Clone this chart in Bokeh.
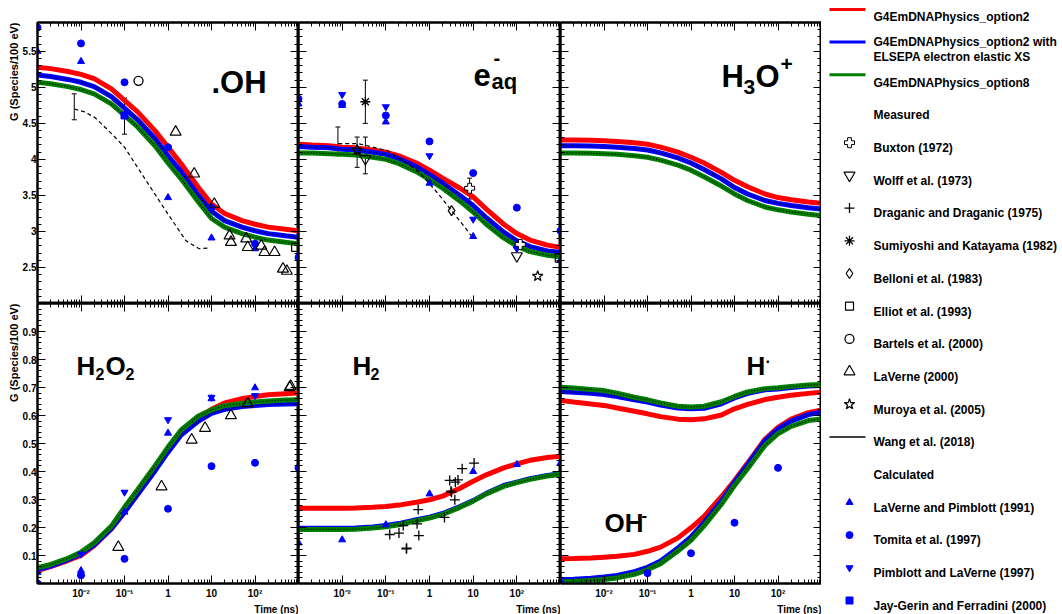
from bokeh.plotting import figure
from bokeh.layouts import row, column
from bokeh.models import (Range1d, LogAxis, LinearAxis, FixedTicker, CustomJSTickFormatter,
                          Title, Label, Whisker, TeeHead, ColumnDataSource, Grid)
from bokeh.core.properties import value
from bokeh.embed import file_html
from bokeh.resources import INLINE

FONT = "Liberation Sans"

# ------------------------------------------------------------------ data
T = [1e-3, 2e-3, 5e-3, 1e-2, 2e-2, 5e-2, 0.1, 0.2, 0.5, 1, 2, 5, 10, 20, 50, 100, 200, 500, 1000]

OH_opt2 = [5.28, 5.26, 5.22, 5.18, 5.12, 4.98, 4.82, 4.66, 4.40, 4.17, 3.94, 3.61, 3.38, 3.25, 3.15, 3.10, 3.06, 3.03, 3.01]
OH_elsepa = [5.17, 5.15, 5.11, 5.07, 5.01, 4.87, 4.71, 4.55, 4.29, 4.05, 3.83, 3.50, 3.28, 3.15, 3.06, 3.01, 2.97, 2.94, 2.92]
OH_opt8 = [5.07, 5.05, 5.01, 4.97, 4.91, 4.77, 4.61, 4.45, 4.19, 3.95, 3.73, 3.41, 3.18, 3.06, 2.97, 2.92, 2.88, 2.85, 2.83]

EAQ_opt2 = [4.21, 4.20, 4.19, 4.17, 4.16, 4.13, 4.10, 4.05, 3.95, 3.85, 3.74, 3.60, 3.48, 3.31, 3.10, 2.97, 2.88, 2.81, 2.78]
EAQ_elsepa = [4.18, 4.17, 4.16, 4.14, 4.13, 4.10, 4.07, 4.01, 3.90, 3.79, 3.67, 3.50, 3.36, 3.19, 2.99, 2.87, 2.79, 2.73, 2.71]
EAQ_opt8 = [4.09, 4.09, 4.08, 4.07, 4.06, 4.03, 4.00, 3.94, 3.83, 3.72, 3.60, 3.42, 3.27, 3.10, 2.91, 2.80, 2.72, 2.67, 2.65]

H3O_opt2 = [4.27, 4.27, 4.265, 4.26, 4.25, 4.23, 4.21, 4.17, 4.10, 4.03, 3.95, 3.82, 3.71, 3.62, 3.52, 3.47, 3.44, 3.41, 3.39]
H3O_elsepa = [4.19, 4.19, 4.185, 4.18, 4.17, 4.15, 4.13, 4.09, 4.02, 3.95, 3.86, 3.73, 3.61, 3.52, 3.43, 3.39, 3.36, 3.33, 3.31]
H3O_opt8 = [4.09, 4.09, 4.085, 4.08, 4.07, 4.05, 4.03, 3.99, 3.92, 3.85, 3.76, 3.63, 3.52, 3.43, 3.34, 3.30, 3.27, 3.24, 3.22]

H2O2_opt2 = [0.046, 0.06, 0.082, 0.10, 0.135, 0.195, 0.255, 0.32, 0.405, 0.475, 0.54, 0.595, 0.622, 0.645, 0.66, 0.668, 0.674, 0.678, 0.68]
H2O2_elsepa = [0.05, 0.062, 0.085, 0.106, 0.138, 0.197, 0.255, 0.318, 0.402, 0.469, 0.53, 0.58, 0.608, 0.622, 0.632, 0.636, 0.639, 0.641, 0.642]
H2O2_opt8 = [0.056, 0.068, 0.09, 0.112, 0.145, 0.205, 0.272, 0.335, 0.42, 0.487, 0.548, 0.598, 0.62, 0.635, 0.644, 0.648, 0.652, 0.655, 0.656]

H2_opt2 = [0.269, 0.269, 0.269, 0.269, 0.27, 0.272, 0.275, 0.28, 0.29, 0.299, 0.312, 0.34, 0.365, 0.388, 0.413, 0.427, 0.44, 0.45, 0.455]
H2_elsepa = [0.197, 0.197, 0.197, 0.197, 0.198, 0.202, 0.207, 0.214, 0.228, 0.237, 0.25, 0.275, 0.296, 0.322, 0.35, 0.362, 0.374, 0.386, 0.392]
H2_opt8 = [0.193, 0.193, 0.193, 0.193, 0.194, 0.198, 0.203, 0.21, 0.224, 0.234, 0.247, 0.272, 0.294, 0.32, 0.347, 0.36, 0.372, 0.384, 0.39]

H_opt2 = [0.654, 0.648, 0.641, 0.636, 0.627, 0.615, 0.606, 0.596, 0.587, 0.585, 0.588, 0.602, 0.624, 0.64, 0.657, 0.665, 0.672, 0.679, 0.683]
H_elsepa = [0.686, 0.683, 0.679, 0.675, 0.668, 0.656, 0.648, 0.637, 0.627, 0.624, 0.626, 0.642, 0.663, 0.679, 0.692, 0.695, 0.70, 0.705, 0.707]
H_opt8 = [0.701, 0.698, 0.693, 0.689, 0.68, 0.665, 0.656, 0.645, 0.633, 0.63, 0.633, 0.649, 0.668, 0.684, 0.696, 0.699, 0.704, 0.709, 0.711]

OHm_opt2 = [0.088, 0.089, 0.091, 0.094, 0.097, 0.104, 0.115, 0.13, 0.163, 0.199, 0.24, 0.31, 0.368, 0.43, 0.515, 0.558, 0.587, 0.61, 0.62]
OHm_elsepa = [0.013, 0.015, 0.019, 0.023, 0.029, 0.042, 0.058, 0.08, 0.127, 0.166, 0.218, 0.295, 0.362, 0.425, 0.51, 0.552, 0.58, 0.603, 0.612]
OHm_opt8 = [0.005, 0.007, 0.011, 0.014, 0.02, 0.033, 0.049, 0.071, 0.116, 0.154, 0.206, 0.283, 0.35, 0.41, 0.493, 0.535, 0.561, 0.582, 0.588]

# Wang et al. (2018) curves (dashed)
WANG_OH_t = [7e-3, 0.012, 0.021, 0.052, 0.1, 0.31, 1, 2.6, 5.2, 8.1]
WANG_OH_v = [4.70, 4.66, 4.58, 4.35, 4.17, 3.71, 3.24, 2.87, 2.76, 2.77]
WANG_EAQ_t = [8.1e-3, 0.023, 0.11, 0.55, 1.6, 3.2, 6.4, 9.1]
WANG_EAQ_v = [4.22, 4.22, 4.12, 3.84, 3.52, 3.29, 3.06, 2.94]

# .OH points
OH_tomita_t = [1e-3, 1e-2, 0.1, 1, 10, 100, 1000]
OH_tomita_v = [5.83, 5.61, 5.07, 4.17, 3.33, 2.83, 2.64]
OH_lp91_t = [1e-3, 1e-2, 1, 10, 100]
OH_lp91_v = [5.50, 5.36, 3.47, 2.91, 2.76]
OH_jg_t = [0.1]
OH_jg_v = [4.61]
OH_bartels_t = [0.21]
OH_bartels_v = [5.09]
OH_laverne_t = [1.5, 4.0, 11.6, 26, 28, 63, 68, 139, 165, 282, 440, 540]
OH_laverne_v = [4.38, 3.80, 3.38, 2.94, 2.85, 2.90, 2.78, 2.80, 2.71, 2.71, 2.48, 2.45]
OH_elliot_t = [860]
OH_elliot_v = [2.78]
OH_err_t = [7e-3, 0.1]
OH_err_lo = [4.55, 4.35]
OH_err_hi = [4.91, 4.85]

# e-aq points
EAQ_tomita_t = [1e-3, 1e-2, 0.1, 1, 10, 100, 1000]
EAQ_tomita_v = [4.84, 4.77, 4.61, 4.25, 3.81, 3.33, 3.01]
EAQ_pl97_t = [1e-2, 0.1, 1, 10, 100]
EAQ_pl97_v = [4.90, 4.73, 4.05, 3.17, 2.76]
EAQ_lp91_t = [1e-3, 1e-2, 0.1, 1, 10, 100, 1000]
EAQ_lp91_v = [4.77, 4.75, 4.52, 3.67, 2.93, 2.80, 2.60]
EAQ_sumi_t = [0.034]
EAQ_sumi_v = [4.80]
EAQ_wolff_t = [0.034, 100]
EAQ_wolff_v = [4.01, 2.66]
EAQ_buxton_t = [8.3, 120]
EAQ_buxton_v = [3.60, 2.82]
EAQ_belloni_t = [0.022, 3.2]
EAQ_belloni_v = [4.13, 3.29]
EAQ_muroya_t = [0.022, 300]
EAQ_muroya_v = [4.13, 2.38]
EAQ_elliot_t = [940]
EAQ_elliot_v = [2.63]
EAQ_err_t = [8e-3, 0.022, 0.034, 0.034, 8.3]
EAQ_err_lo = [4.05, 3.89, 4.50, 3.80, 3.45]
EAQ_err_hi = [4.45, 4.31, 5.10, 4.31, 3.74]

# H2O2 points
H2O2_tomita_t = [1e-3, 1e-2, 0.1, 1, 10, 100, 1000]
H2O2_tomita_v = [0.0, 0.029, 0.088, 0.267, 0.419, 0.431, 0.413]
H2O2_lp91_t = [1e-3, 1e-2, 1e-2, 0.1, 1, 10, 100]
H2O2_lp91_v = [0.04, 0.046, 0.036, 0.255, 0.537, 0.66, 0.699]
H2O2_pl97_t = [1e-2, 0.1, 1, 10, 100]
H2O2_pl97_v = [0.105, 0.326, 0.585, 0.665, 0.671]
H2O2_laverne_t = [0.072, 0.71, 3.5, 7.1, 28, 68, 626, 660]
H2O2_laverne_v = [0.13, 0.346, 0.513, 0.555, 0.60, 0.642, 0.70, 0.705]

# H2 points
H2_lp91_t = [1e-3, 1e-2, 0.1, 1, 10, 100, 1000]
H2_lp91_v = [0.145, 0.156, 0.21, 0.32, 0.40, 0.425, 0.43]
H2_drag_t = [0.123, 0.2, 0.25, 0.295, 0.30, 0.52, 0.55, 0.57, 2.2, 2.9, 3.1, 3.2, 3.8, 3.9, 4.5, 5.6, 10.5]
H2_drag_v = [0.175, 0.18, 0.207, 0.124, 0.126, 0.213, 0.264, 0.171, 0.236, 0.368, 0.33, 0.326,
             0.299, 0.362, 0.37, 0.41, 0.43]

# OH- points
OHm_tomita_t = [1e-3, 0.1, 1, 10, 100]
OHm_tomita_v = [0.0, 0.037, 0.108, 0.217, 0.413]

LEGEND_LABELS = ["G4EmDNAPhysics_option2",
                 "G4EmDNAPhysics_option2 with|ELSEPA electron elastic XS",
                 "G4EmDNAPhysics_option8", "Measured", "Buxton (1972)", "Wolff et al. (1973)",
                 "Draganic and Draganic (1975)", "Sumiyoshi and Katayama (1982)",
                 "Belloni et al. (1983)", "Elliot et al. (1993)", "Bartels et al. (2000)",
                 "LaVerne (2000)", "Muroya et al. (2005)", "Wang et al. (2018)", "Calculated",
                 "LaVerne and Pimblott (1991)", "Tomita et al. (1997)",
                 "Pimblott and LaVerne (1997)", "Jay-Gerin and Ferradini (2000)"]

# ------------------------------------------------------------------ styles
CURVE_COLORS = ["red", "blue", "green"]
STY = {
    "Buxton (1972)": dict(marker="plus", size=10, fill_color="white", line_color="black", line_width=1),
    "Wolff et al. (1973)": dict(marker="inverted_triangle", size=11, fill_color=None, line_color="black", line_width=1.2),
    "Draganic and Draganic (1975)": dict(marker="cross", size=10, line_color="black", line_width=1.3),
    "Sumiyoshi and Katayama (1982)": dict(marker="asterisk", size=10, line_color="black", line_width=1.3),
    "Belloni et al. (1983)": dict(marker="diamond", size=10, fill_color=None, line_color="black", line_width=1.2),
    "Elliot et al. (1993)": dict(marker="square", size=8, fill_color=None, line_color="black", line_width=1.2),
    "Bartels et al. (2000)": dict(marker="circle", size=9, fill_color=None, line_color="black", line_width=1.3),
    "LaVerne (2000)": dict(marker="triangle", size=11, fill_color=None, line_color="black", line_width=1.2),
    "Muroya et al. (2005)": dict(marker="star", size=11, fill_color=None, line_color="black", line_width=1.2),
    "LaVerne and Pimblott (1991)": dict(marker="triangle", size=7, fill_color="blue", line_color="blue", line_width=1),
    "Tomita et al. (1997)": dict(marker="circle", size=7, fill_color="blue", line_color="blue", line_width=1),
    "Pimblott and LaVerne (1997)": dict(marker="inverted_triangle", size=7, fill_color="blue", line_color="blue", line_width=1),
    "Jay-Gerin and Ferradini (2000)": dict(marker="square", size=7, fill_color="blue", line_color="blue", line_width=1),
}

# ------------------------------------------------------------------ layout geometry (page px)
COL_LEFT = [37, 298, 560]
FW = [261, 262, 261]
ROW_TOP = [22, 303]
FH = [281, 280]
YR = [(2.0, 5.9), (0.0, 1.0)]

XFMT = """
const e = Math.round(Math.log10(tick));
const lab = {"-2": "10⁻²", "-1": "10⁻¹", "0": "1", "1": "10", "2": "10²"};
const k = String(e);
return (k in lab) ? lab[k] : "";
"""
YFMT = "return Number(tick.toFixed(2)).toString();"
BLANK = 'return "";'

XT = [10.0 ** k for k in range(-3, 4)]
XM = [m * 10.0 ** k for k in range(-3, 3) for m in range(2, 10)]
YT = [[2.5, 3.0, 3.5, 4.0, 4.5, 5.0, 5.5], [0.1, 0.2, 0.3, 0.4, 0.5, 0.6, 0.7, 0.8, 0.9]]
YM = [[round(2.0 + 0.1 * i, 2) for i in range(40)], [round(0.02 * i, 2) for i in range(51)]]


def make_axis(kind, ticks, minor, code, labels, standoff=1):
    cls = LogAxis if kind == "log" else LinearAxis
    return cls(ticker=FixedTicker(ticks=ticks, minor_ticks=minor),
               formatter=CustomJSTickFormatter(code=code if labels else BLANK),
               axis_line_width=2, axis_line_color="black",
               major_tick_in=8, major_tick_out=0, minor_tick_in=4, minor_tick_out=0,
               major_tick_line_width=1, minor_tick_line_width=1,
               major_tick_line_color="black", minor_tick_line_color="black",
               major_label_text_font=FONT, major_label_text_font_style="bold",
               major_label_text_color="black",
               major_label_text_font_size="10px" if labels else "0px",
               major_label_standoff=standoff if labels else 0)


def to_data(c, r, px, py):
    xd = 10 ** (-3 + 6 * (px - COL_LEFT[c]) / FW[c])
    lo, hi = YR[r]
    yd = hi - (py - ROW_TOP[r]) / FH[r] * (hi - lo)
    return xd, yd


def make_panel(c, r):
    p = figure(x_axis_type="log", x_range=Range1d(1e-3, 1e3), y_range=Range1d(*YR[r]),
               frame_width=FW[c], frame_height=FH[r],
               min_border_left=37 if c == 0 else 0, min_border_right=0,
               min_border_top=22 if r == 0 else 0, min_border_bottom=31 if r == 1 else 0,
               x_axis_location=None, y_axis_location=None,
               toolbar_location=None, output_backend="svg",
               background_fill_color="white", border_fill_color="white")
    p.outline_line_color = "black"
    p.outline_line_width = 2
    for rend in list(p.center):
        if isinstance(rend, Grid):
            rend.visible = False
    p.add_layout(make_axis("log", XT, XM, XFMT, r == 1, standoff=4), "below")
    p.add_layout(make_axis("log", XT, XM, XFMT, False), "above")
    p.add_layout(make_axis("lin", YT[r], YM[r], YFMT, c == 0, standoff=1), "left")
    p.add_layout(make_axis("lin", YT[r], YM[r], YFMT, False), "right")
    if c == 0:
        p.add_layout(Title(text="G (Species/100 eV)", align="right", text_font=FONT,
                           text_font_style="bold", text_font_size="11px", standoff=0,
                           offset=0, text_color="black"), "left")
    if r == 1:
        p.add_layout(Title(text="Time (ns)", align="right", text_font=FONT,
                           text_font_style="bold", text_font_size="10px", standoff=0,
                           offset=0, text_color="black"), "below")
    return p


def curves(p, vals):
    for color, v in zip(CURVE_COLORS, vals):
        p.line(T, v, line_color=color, line_width=5)
        if color != "red":
            p.line(T, v, line_color="black", line_width=1.3, line_dash="1 2")


def points(p, name, t, v):
    p.scatter(t, v, **STY[name])


def errors(p, t, lo, hi):
    src = ColumnDataSource(dict(t=t, lo=lo, hi=hi))
    p.add_layout(Whisker(source=src, base="t", lower="lo", upper="hi", dimension="height",
                         line_color="black", line_width=1,
                         upper_head=TeeHead(size=5, line_color="black", line_width=1),
                         lower_head=TeeHead(size=5, line_color="black", line_width=1)))


def label(p, c, r, pieces):
    for px, py, txt, size in pieces:
        x, y = to_data(c, r, px, py)
        p.add_layout(Label(x=x, y=y, text=txt, text_font=FONT, text_font_style="bold",
                           text_font_size=f"{size}px", text_color="black",
                           text_align="left", text_baseline="alphabetic"))


def wang(p, t, v):
    p.line(t, v, line_color="black", line_width=1.2, line_dash="4 3")


# ------------------------------------------------------------------ panels
p_oh = make_panel(0, 0)
curves(p_oh, [OH_opt2, OH_elsepa, OH_opt8])
wang(p_oh, WANG_OH_t, WANG_OH_v)
errors(p_oh, OH_err_t, OH_err_lo, OH_err_hi)
points(p_oh, "Tomita et al. (1997)", OH_tomita_t, OH_tomita_v)
points(p_oh, "LaVerne and Pimblott (1991)", OH_lp91_t, OH_lp91_v)
points(p_oh, "Jay-Gerin and Ferradini (2000)", OH_jg_t, OH_jg_v)
points(p_oh, "Bartels et al. (2000)", OH_bartels_t, OH_bartels_v)
points(p_oh, "LaVerne (2000)", OH_laverne_t, OH_laverne_v)
points(p_oh, "Elliot et al. (1993)", OH_elliot_t, OH_elliot_v)
label(p_oh, 0, 0, [(211, 82, ".OH", 31)])

p_eaq = make_panel(1, 0)
curves(p_eaq, [EAQ_opt2, EAQ_elsepa, EAQ_opt8])
wang(p_eaq, WANG_EAQ_t, WANG_EAQ_v)
errors(p_eaq, EAQ_err_t, EAQ_err_lo, EAQ_err_hi)
points(p_eaq, "Tomita et al. (1997)", EAQ_tomita_t, EAQ_tomita_v)
points(p_eaq, "Pimblott and LaVerne (1997)", EAQ_pl97_t, EAQ_pl97_v)
points(p_eaq, "LaVerne and Pimblott (1991)", EAQ_lp91_t, EAQ_lp91_v)
points(p_eaq, "Sumiyoshi and Katayama (1982)", EAQ_sumi_t, EAQ_sumi_v)
points(p_eaq, "Wolff et al. (1973)", EAQ_wolff_t, EAQ_wolff_v)
points(p_eaq, "Buxton (1972)", EAQ_buxton_t, EAQ_buxton_v)
points(p_eaq, "Belloni et al. (1983)", EAQ_belloni_t, EAQ_belloni_v)
points(p_eaq, "Muroya et al. (2005)", EAQ_muroya_t, EAQ_muroya_v)
points(p_eaq, "Elliot et al. (1993)", EAQ_elliot_t, EAQ_elliot_v)
label(p_eaq, 1, 0, [(473, 74, "e", 31), (493, 57, "-", 20), (491, 81, "aq", 22)])

p_h3o = make_panel(2, 0)
curves(p_h3o, [H3O_opt2, H3O_elsepa, H3O_opt8])
label(p_h3o, 2, 0, [(721, 76, "H", 31), (743, 86, "3", 21), (755, 76, "O", 31),
                    (780, 63, "+", 21)])

p_h2o2 = make_panel(0, 1)
curves(p_h2o2, [H2O2_opt2, H2O2_elsepa, H2O2_opt8])
points(p_h2o2, "Tomita et al. (1997)", H2O2_tomita_t, H2O2_tomita_v)
points(p_h2o2, "LaVerne and Pimblott (1991)", H2O2_lp91_t, H2O2_lp91_v)
points(p_h2o2, "Pimblott and LaVerne (1997)", H2O2_pl97_t, H2O2_pl97_v)
points(p_h2o2, "LaVerne (2000)", H2O2_laverne_t, H2O2_laverne_v)
label(p_h2o2, 0, 1, [(76, 365, "H", 26), (95, 373, "2", 16), (105, 365, "O", 26),
                     (125, 373, "2", 16)])

p_h2 = make_panel(1, 1)
curves(p_h2, [H2_opt2, H2_elsepa, H2_opt8])
points(p_h2, "LaVerne and Pimblott (1991)", H2_lp91_t, H2_lp91_v)
points(p_h2, "Draganic and Draganic (1975)", H2_drag_t, H2_drag_v)
label(p_h2, 1, 1, [(352, 365, "H", 26), (370, 373, "2", 16)])

p_h = make_panel(2, 1)
curves(p_h, [H_opt2, H_elsepa, H_opt8])
curves(p_h, [OHm_opt2, OHm_elsepa, OHm_opt8])
points(p_h, "Tomita et al. (1997)", OHm_tomita_t, OHm_tomita_v)
label(p_h, 2, 1, [(746, 365, "H", 26), (765, 356, ".", 16),
                  (604, 522, "OH", 26), (641, 514, "-", 17)])

# ------------------------------------------------------------------ legend panel
LG_LEFT, LG_W, LG_TOP, LG_H = 821, 241, 0, 614
lg = figure(width=LG_W, height=LG_H, x_range=Range1d(LG_LEFT, LG_LEFT + LG_W),
            y_range=Range1d(LG_TOP + LG_H, LG_TOP), min_border=0,
            x_axis_location=None, y_axis_location=None, toolbar_location=None,
            output_backend="svg", outline_line_color=None)
for rend in list(lg.center):
    if isinstance(rend, Grid):
        rend.visible = False

STEP = 32.7
TXT_X = 873
for k, lab in enumerate(LEGEND_LABELS):
    base = 16.7 + STEP * k
    lines = lab.split("|")
    if len(lines) == 2:
        ys = [base - 8.3, base + 7.1]
    else:
        ys = [base]
    lg.text([TXT_X] * len(lines), ys, text=lines, text_font=value(FONT),
            text_font_style="bold", text_font_size="12px", text_color="black",
            text_baseline="alphabetic", text_align="left")
    mid = base - 4.3
    if k < 3:
        lg.line([829, 865], [mid - 3.5, mid - 3.5], line_color=CURVE_COLORS[k], line_width=3)
    elif lab == "Wang et al. (2018)":
        lg.line([829, 865], [mid - 1, mid - 1], line_color="black", line_width=1.5)
    elif lab in STY:
        lg.scatter([849], [mid - 1], **STY[lab])

grid = column(row(p_oh, p_eaq, p_h3o), row(p_h2o2, p_h2, p_h))
layout = row(grid, lg)

open("out.html", "w").write(file_html(layout, INLINE))
